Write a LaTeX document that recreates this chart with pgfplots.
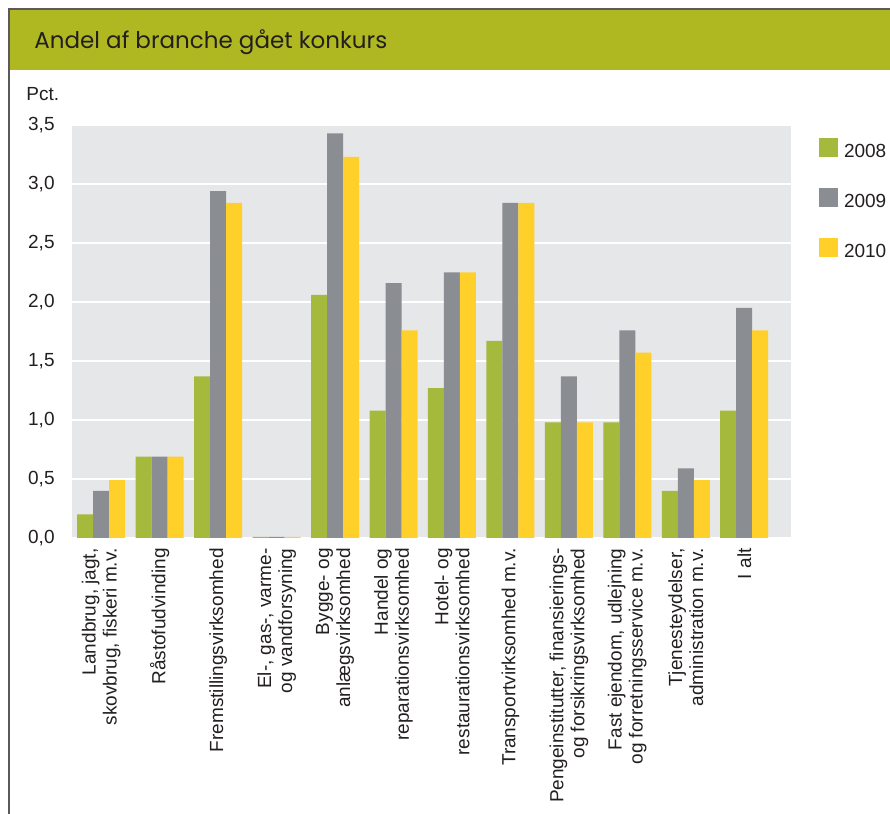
\documentclass[border=0pt]{standalone}
\usepackage{pgfplots}
\pgfplotsset{compat=1.18}
\usepackage{fontspec}
\setmainfont{Liberation Sans}
\newfontfamily\titlefont{Poppins}

\definecolor{txt}{RGB}{35,31,32}
\definecolor{titlebar}{RGB}{175,184,33}
\definecolor{frame}{RGB}{90,90,90}
\definecolor{bggray}{RGB}{230,231,233}
\definecolor{c2008}{RGB}{165,186,60}
\definecolor{c2009}{RGB}{138,141,145}
\definecolor{c2010}{RGB}{255,208,41}

\begin{document}
\begin{tikzpicture}
\useasboundingbox (0,0) rectangle (445pt,407pt);
% frame and title bar
\fill[titlebar] (4.5pt,372pt) rectangle (445pt,402.5pt);
\draw[frame, line width=0.8pt] (4.5pt,0pt) -- (4.5pt,402.5pt) -- (445pt,402.5pt);
\node[anchor=base west, inner sep=0pt, text=txt, font=\titlefont\fontsize{11.5}{13}\selectfont]
  at (17pt,382.5pt) {Andel af branche gået konkurs};
\node[anchor=base west, inner sep=0pt, text=txt, font=\fontsize{9.5}{11}\selectfont]
  at (13pt,356.75pt) {Pct.};

\begin{axis}[
  at={(36pt,138pt)}, anchor=south west,
  scale only axis,
  width=359.5pt, height=206.5pt,
  ybar=0pt, bar width=8pt,
  xmin=-0.5, xmax=11.8,
  ymin=0, ymax=3.5,
  ytick={0,0.5,...,3.5},
  xtick={0,...,11},
  xticklabels={{Landbrug, jagt,\\skovbrug, fiskeri m.v.},
    {Råstofudvinding},
    {Fremstillingsvirksomhed},
    {El-, gas-, varme-\\og vandforsyning},
    {Bygge- og\\anlægsvirksomhed},
    {Handel og\\reparationsvirksomhed},
    {Hotel- og\\restaurationsvirksomhed},
    {Transportvirksomhed m.v.},
    {Pengeinstitutter, finansierings-\\og forsikringsvirksomhed},
    {Fast ejendom, udlejning\\og forretningsservice m.v.},
    {Tjenesteydelser,\\administration m.v.},
    {I alt}},
  axis background/.style={fill=bggray},
  axis line style={draw=none},
  major tick length=0pt,
  ymajorgrids=true,
  major grid style={white, line width=1pt},
  scaled y ticks=false,
  /pgf/number format/assume math mode=true,
  yticklabel style={/pgf/number format/fixed, /pgf/number format/fixed zerofill,
    /pgf/number format/precision=1, /pgf/number format/use comma,
    anchor=east, inner sep=0pt, text=txt, font=\fontsize{9.5}{11}\selectfont},
  yticklabel shift=8.5pt,
  xticklabel style={rotate=90, anchor=east, align=right, inner sep=0pt, text=txt,
    font=\fontsize{9.5}{10.5}\selectfont},
  xticklabel shift=5pt,
  legend style={draw=none, fill=none, inner sep=0pt, outer sep=0pt,
    at={(rel axis cs:1,1)}, anchor=north west, xshift=14pt, yshift=-6.5pt,
    row sep=13.5pt, column sep=3pt,
    nodes={inner sep=0pt, text=txt, font=\fontsize{9.5}{11}\selectfont}},
  legend cell align=left,
  legend image code/.code={\fill[#1, draw=none] (0pt,-2.1pt) rectangle (9.5pt,7.4pt);},
]
\addplot[fill=c2008, draw=none] coordinates {
  (0,0.20) (1,0.69) (2,1.37) (3,0.01) (4,2.06) (5,1.08)
  (6,1.27) (7,1.67) (8,0.98) (9,0.98) (10,0.40) (11,1.08)};
\addplot[fill=c2009, draw=none] coordinates {
  (0,0.40) (1,0.69) (2,2.94) (3,0.01) (4,3.43) (5,2.16)
  (6,2.25) (7,2.84) (8,1.37) (9,1.76) (10,0.59) (11,1.95)};
\addplot[fill=c2010, draw=none] coordinates {
  (0,0.49) (1,0.69) (2,2.84) (3,0.01) (4,3.23) (5,1.76)
  (6,2.25) (7,2.84) (8,0.98) (9,1.57) (10,0.49) (11,1.76)};
\legend{2008,2009,2010}
\end{axis}
\end{tikzpicture}
\end{document}
